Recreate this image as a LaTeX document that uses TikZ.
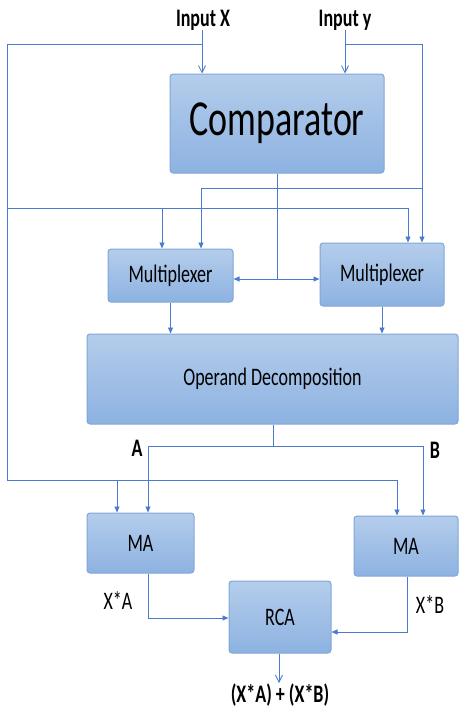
\documentclass[tikz,border=0pt]{standalone}
\usepackage{fontspec}
\setmainfont{Carlito}
\usepackage{graphicx}
\usepackage{tikz}
\usetikzlibrary{positioning,arrows.meta,calc}
\definecolor{mwire}{HTML}{4A7BCF}
\definecolor{mline}{HTML}{7FA6DA}
\definecolor{mtop}{HTML}{B4CDEB}
\definecolor{mbot}{HTML}{8DB2E1}
\newcommand{\tallt}[1]{\scalebox{1}[1.4]{#1}}

\begin{document}
\begin{tikzpicture}[x=1pt,y=-1pt,font=\fontsize{18}{20}\selectfont,
  blk/.style={draw=mline,line width=1pt,top color=mtop,bottom color=mbot,rounded corners=3pt,inner sep=0pt},
  lbl/.style={inner sep=0pt,font=\fontsize{18}{20}\selectfont\bfseries},
  wire/.style={draw=mwire,line width=0.8pt},
  arr/.style={wire,-{Triangle[length=6pt,width=5pt]}},
  inarr/.style={wire,-{Straight Barb[length=7pt,width=7pt]}}]
  \useasboundingbox (0,0) rectangle (459,709);
  \node[blk,minimum width=214pt,minimum height=99pt,font=\fontsize{36}{40}\selectfont] (cmp) at (277,123.5) {\tallt{Comparator}};
  \node[blk,minimum width=125pt,minimum height=53pt] (mux1) at (170.5,275.5) {\tallt{Multiplexer}};
  \node[blk,minimum width=124pt,minimum height=63pt] (mux2) at (382,274.5) {\tallt{Multiplexer}};
  \node[blk,minimum width=371pt,minimum height=90pt] (opd) at (272.5,379) {\tallt{Operand Decomposition}};
  \node[blk,minimum width=107pt,minimum height=60pt] (ma1) at (140.5,543) {\tallt{MA}};
  \node[blk,minimum width=104pt,minimum height=60pt] (ma2) at (406,546) {\tallt{MA}};
  \node[blk,minimum width=102pt,minimum height=72pt] (rca) at (280,617) {\tallt{RCA}};
  \node[lbl] (inx) at (203,20) {\tallt{Input X}};
  \node[lbl] (iny) at (345,20) {\tallt{Input y}};
  \node[lbl] (la) at (137,448) {\tallt{A}};
  \node[lbl] (lb) at (435,450) {\tallt{B}};
  \node[inner sep=0pt] (xa) at (118,601) {\tallt{X*A}};
  \node[inner sep=0pt] (xb) at (430,605) {\tallt{X*B}};
  \node[lbl] (res) at (280,695) {\tallt{(X*A) + (X*B)}};
  \coordinate (xs) at (202,44);
  \coordinate (ys) at (345,44);
  \coordinate (xl) at (7,44);
  \coordinate (xm) at (7,208);
  \coordinate (xd) at (7,480);
  \coordinate (yr) at (422,44);
  \coordinate (ym) at (422,188);
  \coordinate (cs) at (277,279);
  \coordinate (ds) at (273,446);
  \coordinate (ta) at (148,618);
  \coordinate (tb) at (407,632);
  \draw[inarr] (inx.south -| xs) -- (xs |- cmp.north);
  \draw[inarr] (iny.south -| ys) -- (ys |- cmp.north);
  \draw[wire] (xs) -- (xl) -- (xd);
  \draw[arr] (xm) -- (408,208) -- (408,0 |- mux2.north);
  \draw[arr] (162,208) -- (162,0 |- mux1.north);
  \draw[arr] (ys) -- (yr) -- (yr |- mux2.north);
  \draw[arr] (ym) -- (201,188) -- (201,0 |- mux1.north);
  \draw[wire] (cmp.south) -- (cs);
  \draw[arr] (cs) -- (cs -| mux1.east);
  \draw[arr] (cs) -- (cs -| mux2.west);
  \draw[arr] (mux1.south) -- (mux1.south |- opd.north);
  \draw[arr] (mux2.south) -- (mux2.south |- opd.north);
  \draw[wire] (opd.south -| ds) -- (ds);
  \draw[arr] (148,446) -- (423,446) -- (423,0 |- ma2.north);
  \draw[arr] (148,446) -- (148,0 |- ma1.north);
  \draw[arr] (xd) -- (397,480) -- (397,0 |- ma2.north);
  \draw[arr] (117,480) -- (117,0 |- ma1.north);
  \draw[arr] (ta |- ma1.south) -- (ta) -- (ta -| rca.west);
  \draw[arr] (tb |- ma2.south) -- (tb) -- (tb -| rca.east);
  \draw[inarr] (rca.south -| 279,0) -- (279,683);
\end{tikzpicture}
\end{document}
